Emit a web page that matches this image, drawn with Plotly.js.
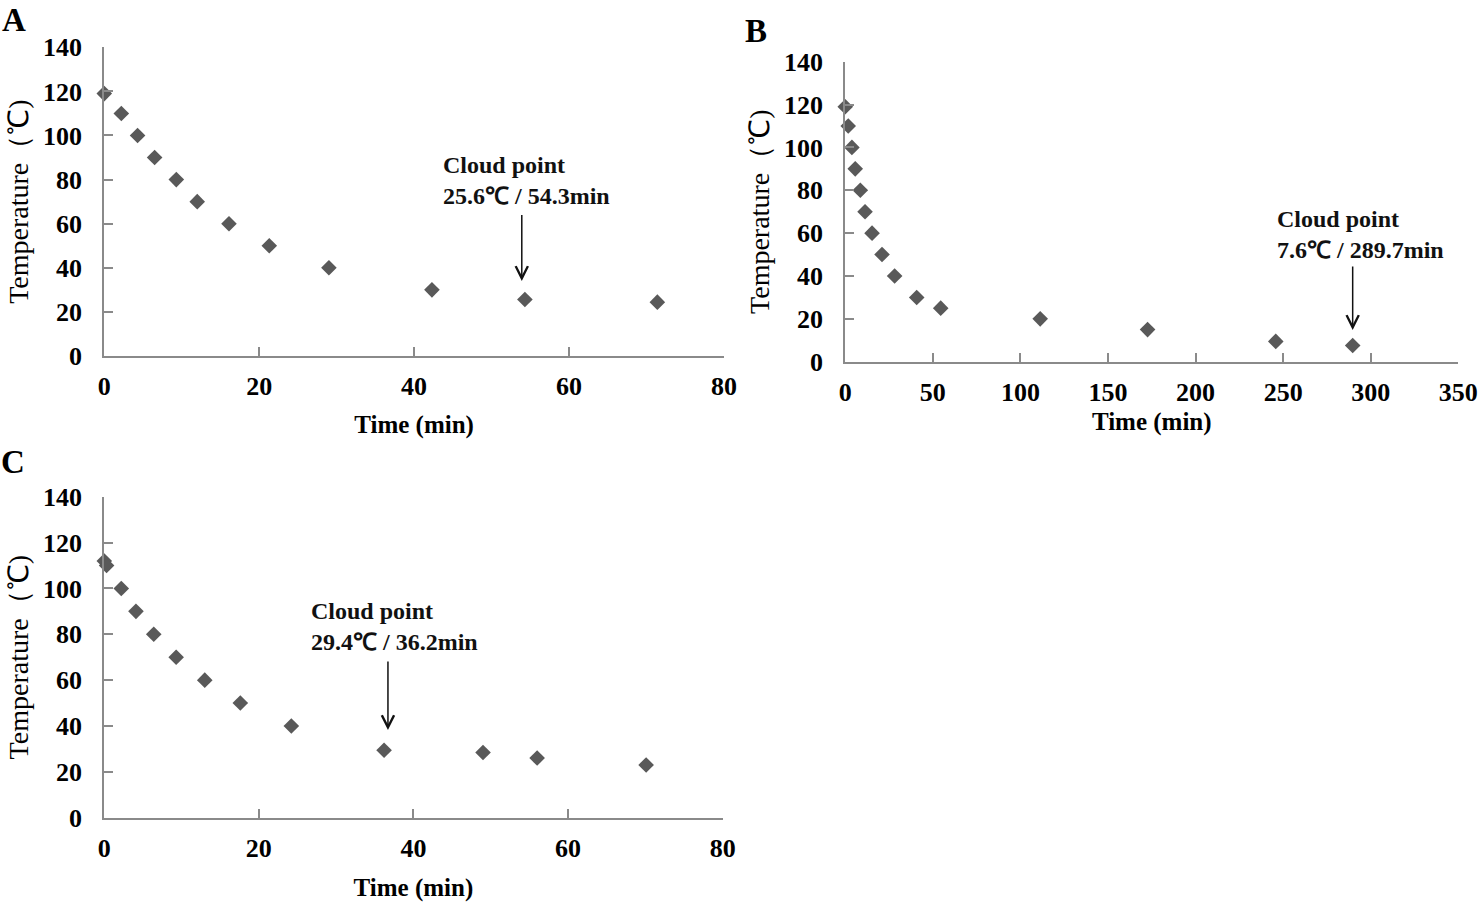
<!DOCTYPE html>
<html>
<head>
<meta charset="utf-8">
<script src="https://cdn.plot.ly/plotly-3.0.1.min.js"></script>
<style>html,body{margin:0;padding:0;background:#fff;}#chart{width:1479px;height:903px;}</style>
</head>
<body>
<div id="chart"></div>
<script>
// ---- Data ----
var timeA = [0, 2.2, 4.3, 6.5, 9.3, 12.0, 16.1, 21.3, 29.0, 42.3, 54.3, 71.4];
var tempA = [119, 110, 100, 90, 80, 70, 60, 50, 40, 30, 25.6, 24.4];
var cloudA = {temp: 25.6, time: 54.3};

var timeB = [0, 1.7, 3.8, 5.7, 8.6, 11.3, 15.3, 21.0, 28.2, 40.8, 54.5, 111.3, 172.6, 245.8, 289.7];
var tempB = [119, 110, 100, 90, 80, 70, 60, 50, 40, 30, 25, 20, 15, 9.5, 7.6];
var cloudB = {temp: 7.6, time: 289.7};

var timeC = [0, 0.3, 2.2, 4.1, 6.4, 9.3, 13.0, 17.6, 24.2, 36.2, 49.0, 56.0, 70.1];
var tempC = [112, 110, 100, 90, 80, 70, 60, 50, 40, 29.4, 28.4, 26, 23];
var cloudC = {temp: 29.4, time: 36.2};

var yTicks = [0, 20, 40, 60, 80, 100, 120, 140];
var xTicksA = [0, 20, 40, 60, 80];
var xTicksB = [0, 50, 100, 150, 200, 250, 300, 350];
var panelLabels = ['A', 'B', 'C'];
var xTitle = 'Time (min)';
var yTitle = 'Temperature（℃)';

// ---- Styles ----
var FONT = 'Liberation Serif, Times New Roman, serif';
var AX = '#8a8a8a';
var MK = '#595959';

function marker() {
  return {symbol: 'diamond', size: 12, color: MK, line: {width: 0}};
}
function xaxis(range, ticks, domain, anchor, standoff) {
  return {
    domain: domain, anchor: anchor, range: range, tickvals: ticks, ticktext: ticks.map(String),
    showgrid: false, zeroline: false, showline: true, linecolor: AX, linewidth: 2,
    ticks: 'inside', ticklen: 9, tickwidth: 2, tickcolor: AX,
    tickfont: {family: FONT, size: 26, color: '#000', weight: 'bold'},
    ticklabelstandoff: 6,
    title: {text: '<b>' + xTitle + '</b>', font: {family: FONT, size: 25, color: '#000'}, standoff: standoff},
    fixedrange: true
  };
}
function yaxis(domain, anchor) {
  return {
    domain: domain, anchor: anchor, range: [0, 140], tickvals: yTicks, ticktext: yTicks.map(String),
    showgrid: false, zeroline: false, showline: true, linecolor: AX, linewidth: 2,
    ticks: 'inside', ticklen: 9, tickwidth: 2, tickcolor: AX,
    tickfont: {family: FONT, size: 26, color: '#000', weight: 'bold'},
    ticklabelstandoff: 15,
    title: {text: yTitle, font: {family: FONT, size: 28, color: '#000'}, standoff: 6},
    fixedrange: true
  };
}

var traces = [
  {x: timeA, y: tempA, type: 'scatter', mode: 'markers', marker: marker(), xaxis: 'x', yaxis: 'y', cliponaxis: false, hoverinfo: 'x+y'},
  {x: timeB, y: tempB, type: 'scatter', mode: 'markers', marker: marker(), xaxis: 'x2', yaxis: 'y2', cliponaxis: false, hoverinfo: 'x+y'},
  {x: timeC, y: tempC, type: 'scatter', mode: 'markers', marker: marker(), xaxis: 'x3', yaxis: 'y3', cliponaxis: false, hoverinfo: 'x+y'}
];

function cloudText(c) {
  return '<b>Cloud point<br>' + c.temp + '℃ / ' + c.time + 'min</b>';
}
function arrow(xr, yr, x, yTip, yTail) {
  return {xref: xr, yref: yr, x: x, y: yTip, axref: xr, ayref: yr, ax: x, ay: yTail,
          text: '', showarrow: true, arrowhead: 5, arrowsize: 1.6, arrowwidth: 1.5,
          arrowcolor: '#111', standoff: 0, startstandoff: 0};
}
function label(xr, yr, x, y, txt) {
  return {xref: xr, yref: yr, x: x, y: y, xanchor: 'left', yanchor: 'middle', align: 'left',
          text: txt, showarrow: false, font: {family: FONT, size: 24, color: '#111'}};
}
function panel(x, y, t) {
  return {xref: 'paper', yref: 'paper', x: x, y: y, xanchor: 'center', yanchor: 'middle',
          text: '<b>' + t + '</b>', showarrow: false, borderpad: 0,
          font: {family: FONT, size: 33, color: '#000'}};
}

var layout = {
  width: 1479, height: 903,
  margin: {l: 0, r: 0, t: 0, b: 0},
  paper_bgcolor: '#fff', plot_bgcolor: '#fff',
  showlegend: false,
  xaxis: xaxis([0, 80], xTicksA, [0.0705, 0.4895], 'y', 15),
  yaxis: yaxis([0.6058, 0.9476], 'x'),
  xaxis2: xaxis([0, 350], xTicksB, [0.5715, 0.9860], 'y2', 7),
  yaxis2: yaxis([0.5994, 0.9317], 'x2'),
  xaxis3: xaxis([0, 80], xTicksA, [0.0705, 0.4886], 'y3', 17),
  yaxis3: yaxis([0.0945, 0.4499], 'x3'),
  annotations: [
    arrow('x', 'y', cloudA.time - 0.4, cloudA.temp + 8.4, cloudA.temp + 39),
    label('x', 'y', 43.5, 79.6, cloudText(cloudA)),
    arrow('x2', 'y2', cloudB.time, cloudB.temp + 7.2, cloudB.temp + 37.5),
    label('x2', 'y2', 245.5, 59.5, cloudText(cloudB)),
    arrow('x3', 'y3', cloudC.time + 0.5, cloudC.temp + 8.8, cloudC.temp + 39.4),
    label('x3', 'y3', 26.5, 83.2, cloudText(cloudC)),
    panel(14 / 1479, 1 - 20 / 903, panelLabels[0]),
    panel(756 / 1479, 1 - 31 / 903, panelLabels[1]),
    panel(13 / 1479, 1 - 462 / 903, panelLabels[2])
  ]
};

Plotly.newPlot('chart', traces, layout, {displayModeBar: false});
</script>
</body>
</html>
